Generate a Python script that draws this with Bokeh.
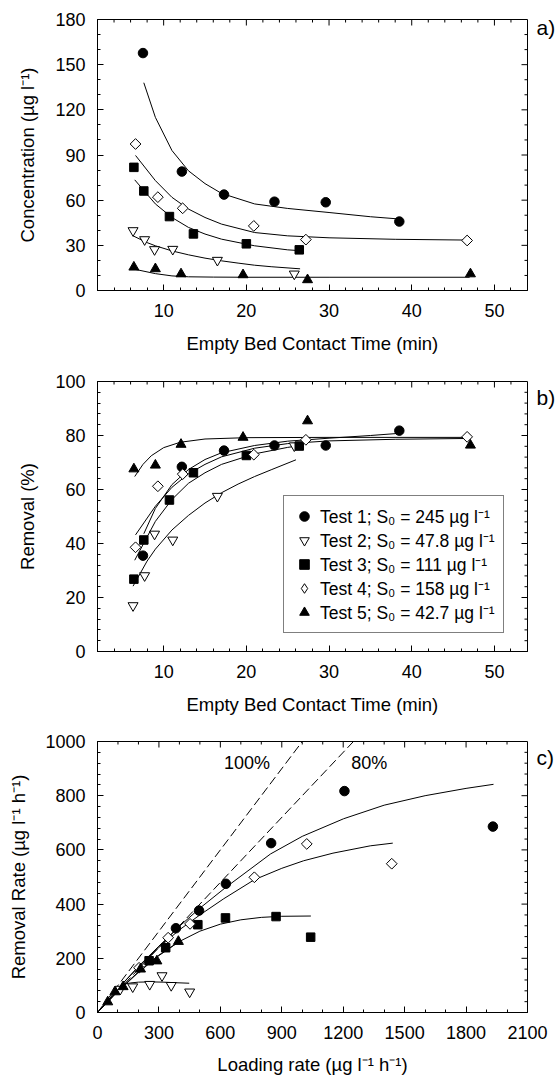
import math
from bokeh.plotting import figure
from bokeh.models import Range1d, LinearAxis, SingleIntervalTicker, FixedTicker, Label, Legend, LegendItem
from bokeh.layouts import column
from bokeh.embed import file_html
from bokeh.resources import INLINE

# ---------------- Panel a: concentration vs EBCT ----------------
ebct1 = [7.5, 12.2, 17.3, 23.4, 29.6, 38.5]
conc1 = [157.7, 79.0, 63.7, 59.0, 58.6, 45.8]
ebct2 = [6.3, 7.7, 8.9, 11.1, 16.5, 25.8]
conc2 = [39.8, 33.8, 27.2, 27.4, 20.1, 11.0]
ebct3 = [6.4, 7.6, 10.7, 13.6, 20.0, 26.4]
conc3 = [81.8, 66.1, 49.1, 37.6, 31.0, 27.0]
ebct4 = [6.6, 9.3, 12.3, 20.9, 27.2, 46.7]
conc4 = [97.3, 62.0, 54.6, 42.9, 33.8, 33.2]
ebct5 = [6.4, 9.0, 12.1, 19.6, 27.4, 47.1]
conc5 = [15.5, 14.4, 11.0, 10.4, 7.1, 11.0]

fita1_x = [7.6, 9, 11, 13, 15, 17, 21, 25, 30, 35, 38.5]
fita1_y = [138, 115, 93, 79.5, 71, 64.5, 57.5, 54.5, 51.8, 49.0, 47.5]
fita2_x = [6.3, 8, 9, 11, 13, 15, 17, 19, 21, 23, 26.5]
fita2_y = [36.3, 31.8, 29.7, 26.3, 23.7, 21.5, 19.7, 18.2, 16.8, 15.8, 14.4]
fita3_x = [6.5, 9, 11, 13, 15, 17, 21, 25, 26.4]
fita3_y = [73.5, 57.5, 48.5, 41.9, 37.5, 34.1, 29.7, 27.0, 26.5]
fita4_x = [6.6, 9, 11, 13, 15, 17, 21, 25, 30, 38, 46.7]
fita4_y = [89.7, 73, 61.9, 54.1, 48.5, 44.1, 38.5, 36.3, 35.0, 34.0, 33.5]
fita5_x = [6.5, 9, 11, 13, 16, 20, 30, 47]
fita5_y = [14.1, 11.2, 9.7, 9.1, 8.9, 8.8, 8.8, 8.8]

# ---------------- Panel b: removal vs EBCT ----------------
rem1 = [35.5, 68.4, 74.4, 76.3, 76.3, 81.8]
rem2 = [17.0, 28.1, 43.5, 41.3, 57.5, 76.2]
rem3 = [26.8, 41.3, 56.1, 66.2, 72.6, 76.1]
rem4 = [38.6, 61.2, 65.7, 72.9, 78.4, 79.5]
rem5 = [67.6, 69.0, 76.7, 79.3, 85.4, 76.4]

fitb1_x = [7.6, 9, 11, 13, 15, 17, 21, 25, 30, 35, 38.5]
fitb1_y = [43.6, 53.0, 61.8, 67.4, 71.1, 73.6, 76.3, 77.9, 79.0, 80.0, 80.8]
fitb2_x = [6.3, 8, 9, 11, 13, 15, 17, 19, 21, 23, 26]
fitb2_y = [24.2, 33.5, 37.9, 45.0, 50.4, 55.0, 58.8, 62.0, 64.8, 67.3, 71.0]
fitb3_x = [6.5, 9, 11, 13, 15, 17, 21, 25, 26.4]
fitb3_y = [33.8, 48.2, 56.3, 62.3, 66.2, 69.3, 73.2, 75.6, 76.2]
fitb4_x = [6.6, 9, 11, 13, 15, 17, 21, 25, 30, 38, 46.7]
fitb4_y = [43.2, 53.8, 60.8, 65.8, 69.3, 72.1, 75.3, 77.0, 78.0, 78.6, 78.9]
fitb5_x = [6.5, 7.5, 8.5, 10, 12, 15, 20, 30, 47]
fitb5_y = [64.8, 69.3, 72.5, 75.5, 77.5, 78.7, 79.2, 79.3, 79.3]

legend_labels = [
    "Test 1; S\u2080 = 245 \u00b5g l\u207b\u00b9",
    "Test 2; S\u2080 = 47.8 \u00b5g l\u207b\u00b9",
    "Test 3; S\u2080 = 111 \u00b5g l\u207b\u00b9",
    "Test 4; S\u2080 = 158 \u00b5g l\u207b\u00b9",
    "Test 5; S\u2080 = 42.7 \u00b5g l\u207b\u00b9",
]

# ---------------- Panel c: removal rate vs loading rate ----------------
load1 = [1931, 1206, 848, 627, 496, 383]
rr1 = [686, 817, 625, 475, 376, 311]
load2 = [450, 360, 315, 255, 172, 111]
rr2 = [76, 100, 136, 104, 95, 86]
load3 = [1041, 872, 625, 490, 333, 252]
rr3 = [278, 354, 349, 324, 239, 191]
load4 = [1437, 1022, 766, 452, 345, 203]
rr4 = [549, 622, 499, 327, 276, 165]
load5 = [395, 290, 210, 125, 85, 50]
rr5 = [262, 190, 160, 95, 76, 39]

fitc1_x = [0, 100, 200, 300, 400, 500, 627, 845, 1000, 1202, 1400, 1600, 1800, 1934]
fitc1_y = [0, 88, 170, 245, 318, 385, 462, 585, 650, 715, 765, 800, 827, 842]
fitc2_x = [120, 160, 200, 260, 320, 380, 448]
fitc2_y = [103, 109, 112, 113, 112, 110, 108]
fitc3_x = [0, 100, 200, 300, 400, 500, 600, 700, 800, 900, 1042]
fitc3_y = [0, 78, 148, 210, 262, 300, 326, 342, 351, 355, 356]
fitc4_x = [0, 100, 200, 300, 400, 500, 617, 766, 900, 1007, 1150, 1332, 1442]
fitc4_y = [0, 88, 168, 240, 305, 360, 420, 490, 532, 560, 588, 615, 625]
fitc5_x = [0, 100, 200, 300, 400]
fitc5_y = [0, 80, 150, 212, 262]

line100_x = [0, 1000]
line100_y = [0, 1000]
line80_x = [0, 1250]
line80_y = [0, 1000]

FONT = "Liberation Sans"
TICK_FS = "18px"
TITLE_FS = "18.5px"
LEG_FS = "17.5px"


def tick_positions(lo, hi, step):
    n = int(round((hi - lo) / step))
    return [lo + i * step for i in range(n + 1)]


def make_fig(h, top, bottom, xr, yr, xmaj, xmin_n, ymaj, ymin_n, xlabel, ylabel,
             panel_text, panel_y, ystand=14, xstand=13):
    p = figure(width=558, height=h, x_range=Range1d(*xr), y_range=Range1d(*yr),
               output_backend="svg", toolbar_location=None,
               min_border_left=97, min_border_right=30,
               min_border_top=top, min_border_bottom=bottom,
               background_fill_color="white", border_fill_color="white")
    p.grid.visible = False
    p.outline_line_color = "black"
    p.outline_line_width = 1
    p.xaxis.ticker = SingleIntervalTicker(interval=xmaj, num_minor_ticks=xmin_n)
    p.yaxis.ticker = SingleIntervalTicker(interval=ymaj, num_minor_ticks=ymin_n)
    for ax in (p.xaxis[0], p.yaxis[0]):
        ax.major_tick_in = 6
        ax.major_tick_out = 0
        ax.minor_tick_in = 3
        ax.minor_tick_out = 0
        ax.axis_line_color = "black"
        ax.major_tick_line_color = "black"
        ax.minor_tick_line_color = "black"
        ax.major_label_text_font = FONT
        ax.major_label_text_font_size = TICK_FS
        ax.major_label_text_color = "black"
        ax.axis_label_text_font = FONT
        ax.axis_label_text_font_size = TITLE_FS
        ax.axis_label_text_font_style = "normal"
        ax.axis_label_text_color = "black"
    p.xaxis.major_label_standoff = 13
    p.yaxis.major_label_standoff = 12
    p.xaxis.axis_label = xlabel
    p.yaxis.axis_label = ylabel
    p.xaxis.axis_label_standoff = xstand
    p.yaxis.axis_label_standoff = ystand

    # mirrored inward ticks on top and right edges
    x0, x1 = xr
    y0, y1 = yr
    xminor = xmaj / (xmin_n)
    yminor = ymaj / (ymin_n)
    xt_all = [t for t in tick_positions(0, x1, xminor) if x0 < t < x1]
    yt_all = [t for t in tick_positions(0, y1, yminor) if y0 < t < y1]
    xt_major = [t for t in xt_all if abs(t / xmaj - round(t / xmaj)) < 1e-6]
    xt_minor = [t for t in xt_all if t not in xt_major]
    yt_major = [t for t in yt_all if abs(t / ymaj - round(t / ymaj)) < 1e-6]
    yt_minor = [t for t in yt_all if t not in yt_major]
    p.ray(x=xt_major, y=[y1] * len(xt_major), length=6, angle=-math.pi / 2,
          length_units="screen", line_color="black", line_width=1)
    p.ray(x=xt_minor, y=[y1] * len(xt_minor), length=3, angle=-math.pi / 2,
          length_units="screen", line_color="black", line_width=1)
    p.ray(x=[x1] * len(yt_major), y=yt_major, length=6, angle=math.pi,
          length_units="screen", line_color="black", line_width=1)
    p.ray(x=[x1] * len(yt_minor), y=yt_minor, length=3, angle=math.pi,
          length_units="screen", line_color="black", line_width=1)

    # panel letter placed to the right of the frame
    rax = LinearAxis(ticker=FixedTicker(ticks=[panel_y]))
    rax.major_label_overrides = {panel_y: panel_text}
    rax.major_tick_in = 0
    rax.major_tick_out = 0
    rax.minor_tick_in = 0
    rax.minor_tick_out = 0
    rax.axis_line_color = None
    rax.major_tick_line_color = None
    rax.minor_tick_line_color = None
    rax.major_label_standoff = 9
    rax.major_label_text_font = FONT
    rax.major_label_text_font_size = "21px"
    rax.major_label_text_color = "black"
    p.add_layout(rax, "right")
    return p


SPECS = [
    dict(marker="circle", size=9.5, fill_color="black", line_color="black"),
    dict(marker="inverted_triangle", size=10, fill_color="white", line_color="black"),
    dict(marker="square", size=8.5, fill_color="black", line_color="black"),
    dict(marker="square", size=7.6, angle=math.pi / 4, fill_color="white", line_color="black"),
    dict(marker="triangle", size=10, fill_color="black", line_color="black"),
]


def add_points(p, xs_list, ys_list):
    rs = []
    for xs, ys, sp in zip(xs_list, ys_list, SPECS):
        rs.append(p.scatter(xs, ys, line_width=1, **sp))
    return rs


def add_lines(p, pairs):
    for xs, ys in pairs:
        p.line(xs, ys, line_color="black", line_width=1)


# ---- a ----
pa = make_fig(370, 19, 80, (2, 54), (0, 180), 10, 5, 30, 3,
              "Empty Bed Contact Time (min)", "Concentration (\u00b5g l\u207b\u00b9)",
              "a)", 175)
add_lines(pa, [(fita1_x, fita1_y), (fita2_x, fita2_y), (fita3_x, fita3_y),
               (fita4_x, fita4_y), (fita5_x, fita5_y)])
add_points(pa, [ebct1, ebct2, ebct3, ebct4, ebct5], [conc1, conc2, conc3, conc4, conc5])

# ---- b ----
pb = make_fig(362, 11, 81, (2, 54), (0, 100), 10, 5, 20, 5,
              "Empty Bed Contact Time (min)", "Removal (%)", "b)", 94)
add_lines(pb, [(fitb1_x, fitb1_y), (fitb2_x, fitb2_y), (fitb3_x, fitb3_y),
               (fitb4_x, fitb4_y), (fitb5_x, fitb5_y)])
rb = add_points(pb, [ebct1, ebct2, ebct3, ebct4, ebct5], [rem1, rem2, rem3, rem4, rem5])
# Legend glyphs are drawn unrotated, so the Test 4 legend entry uses a diamond-marker
# copy of the Test 4 data mapped onto an x range that lies outside the frame.
pb.extra_x_ranges = {"legend_only": Range1d(-1000, -999)}
leg_diamond = pb.scatter(ebct4, rem4, marker="diamond", size=12, fill_color="white",
                         line_color="black", line_width=1, x_range_name="legend_only")
leg_renderers = [rb[0], rb[1], rb[2], leg_diamond, rb[4]]
legend = Legend(items=[LegendItem(label=l, renderers=[r]) for l, r in zip(legend_labels, leg_renderers)],
                location=(186, 18), label_text_font=FONT, label_text_font_size=LEG_FS,
                label_text_color="black", border_line_color="black", border_line_width=1,
                background_fill_color="white", background_fill_alpha=1.0,
                padding=8, spacing=0, label_height=18, glyph_height=24, glyph_width=24,
                label_standoff=4, margin=0)
pb.add_layout(legend)

# ---- c ----
pc = make_fig(347, 9, 67, (0, 2100), (0, 1000), 300, 3, 200, 5,
              "Loading rate (\u00b5g l\u207b\u00b9 h\u207b\u00b9)",
              "Removal Rate (\u00b5g l\u207b\u00b9 h\u207b\u00b9)", "c)", 940,
              ystand=13, xstand=12)
pc.line(line100_x, line100_y, line_color="black", line_width=1, line_dash="9 4")
pc.line(line80_x, line80_y, line_color="black", line_width=1, line_dash="9 4")
add_lines(pc, [(fitc1_x, fitc1_y), (fitc2_x, fitc2_y), (fitc3_x, fitc3_y),
               (fitc4_x, fitc4_y), (fitc5_x, fitc5_y)])
add_points(pc, [load1, load2, load3, load4, load5], [rr1, rr2, rr3, rr4, rr5])
pc.add_layout(Label(x=730, y=920, text="100%", text_font=FONT, text_font_size=TICK_FS,
                    text_color="black", text_baseline="middle", text_align="center"))
pc.add_layout(Label(x=1327, y=920, text="80%", text_font=FONT, text_font_size=TICK_FS,
                    text_color="black", text_baseline="middle", text_align="center"))

layout = column(pa, pb, pc, spacing=0)
open("out.html", "w").write(file_html(layout, INLINE))
